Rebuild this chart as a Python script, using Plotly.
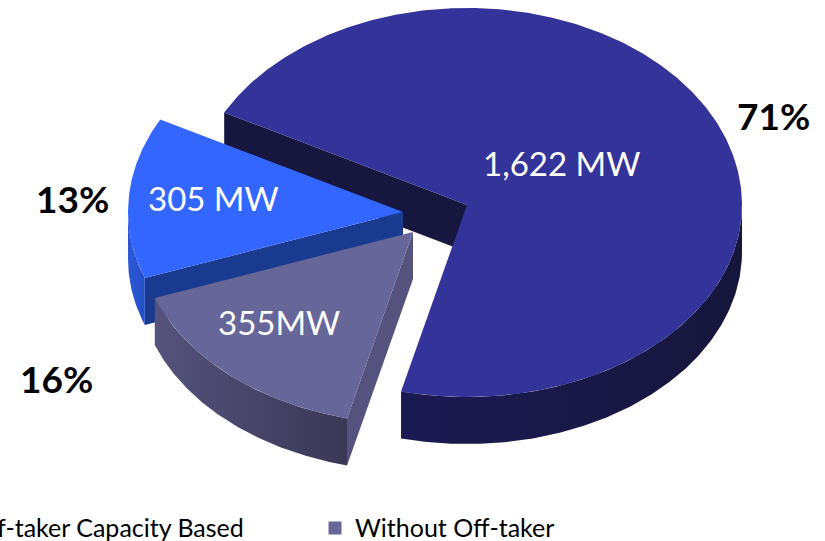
import numpy as np
import plotly.graph_objects as go

# Installed capacity by off-taker status
categories = ["With Off-taker", "Without Off-taker", "Off-taker Capacity Based"]
capacity_mw = [1622, 355, 305]
capacity_labels = ["1,622 MW", "355MW", "305 MW"]
share_labels = ["71%", "16%", "13%"]
top_colours = ["#343399", "#666699", "#3366FF"]
cut_colours = ["#16163F", "#55527D", "#1A3A8F"]
wall_colours = [("#1B1A52", "#16163C"), ("#55527D", "#3A3855"), ("#2B58D8", "#2450C4")]

# Projection of the tilted disc onto the page (pixels); the far half reads slightly larger
RX, RY_NEAR, RY_FAR, DEPTH = 275, 192, 197, 47
START_DEG = 298.0
APEXES = [(467, 205), (413, 232), (403, 212)]
DRAW_ORDER = [0, 2, 1]
LABEL_POS = [(561, 163), (279, 322), (213, 198)]
SHARE_POS = [(773, 115), (56, 378), (72, 198)]

FONT = "Lato"
fig = go.Figure()


def rim(apex, a0, a1):
    """Points on the slice's outer arc; angles run clockwise from twelve o'clock."""
    n = max(int(abs(a1 - a0) * 2), 2)
    t = np.radians(np.linspace(a0, a1, n))
    c = np.cos(t)
    return apex[0] + RX * np.sin(t), apex[1] - np.where(c > 0, RY_FAR, RY_NEAR) * c


def polygon(xs, ys, colour=None, gradient=None):
    kw = dict(fillgradient=gradient) if gradient else dict(fillcolor=colour)
    fig.add_trace(go.Scatter(x=list(xs) + [xs[0]], y=list(ys) + [ys[0]], mode="lines",
                             line=dict(width=0), fill="toself", hoverinfo="skip",
                             showlegend=False, **kw))


total = sum(capacity_mw)
edges = START_DEG + np.concatenate([[0], np.cumsum(capacity_mw)]) / total * 360

for i in DRAW_ORDER:
    a0, a1 = edges[i], edges[i + 1]
    apex = APEXES[i]
    ax, ay = apex

    # Cut face along the slice's leading radial edge, which looks toward the viewer
    ex, ey = rim(apex, a0, a0 + 0.01)
    polygon([ax, ex[0], ex[0], ax], [ay, ey[0], ey[0] + DEPTH, ay + DEPTH], cut_colours[i])

    # Outer wall: only the part of the arc on the near side of the disc
    for shift in (0, -360):
        lo, hi = max(a0 + shift, 90), min(a1 + shift, 270)
        if lo < hi:
            wx, wy = rim(apex, lo, hi)
            xs = np.concatenate([wx, wx[::-1]])
            ys = np.concatenate([wy, wy[::-1] + DEPTH])
            left, right = wall_colours[i]
            grad = dict(type="horizontal", colorscale=[[0, left], [1, right]])
            polygon(xs, ys, gradient=grad)
            break

    # Top face
    tx, ty = rim(apex, a0, a1)
    polygon(np.concatenate([[ax], tx]), np.concatenate([[ay], ty]), top_colours[i])

notes = []
for text, (x, y) in zip(capacity_labels, LABEL_POS):
    notes.append(dict(x=x, y=y, text=text, font=dict(family=FONT, size=33, color="#FFFFFF")))
for text, (x, y) in zip(share_labels, SHARE_POS):
    notes.append(dict(x=x, y=y, text=f"<b>{text}</b>", font=dict(family=FONT, size=37, color="#000000")))

# Legend row along the bottom edge; the first entry runs off the left side of the page
legend_font = dict(family=FONT, size=25, color="#000000")
notes.append(dict(x=0, xshift=-5, y=527, text="f-taker Capacity Based", xanchor="left", font=legend_font))
notes.append(dict(x=353, y=527, text=categories[1], xanchor="left", font=legend_font))
for note in notes:
    note.update(xref="x", yref="y", showarrow=False)
    note.setdefault("xanchor", "center")

fig.add_trace(go.Scatter(x=[335], y=[528], mode="markers", hoverinfo="skip", showlegend=False,
                         marker=dict(symbol="square", size=13, color=top_colours[1])))

fig.update_layout(
    width=825, height=541, margin=dict(l=0, r=0, t=0, b=0),
    paper_bgcolor="white", plot_bgcolor="white", showlegend=False, annotations=notes,
    xaxis=dict(range=[0, 825], visible=False, fixedrange=True),
    yaxis=dict(range=[541, 0], visible=False, fixedrange=True),
)
fig.write_html("out.html", config=dict(displayModeBar=False))
